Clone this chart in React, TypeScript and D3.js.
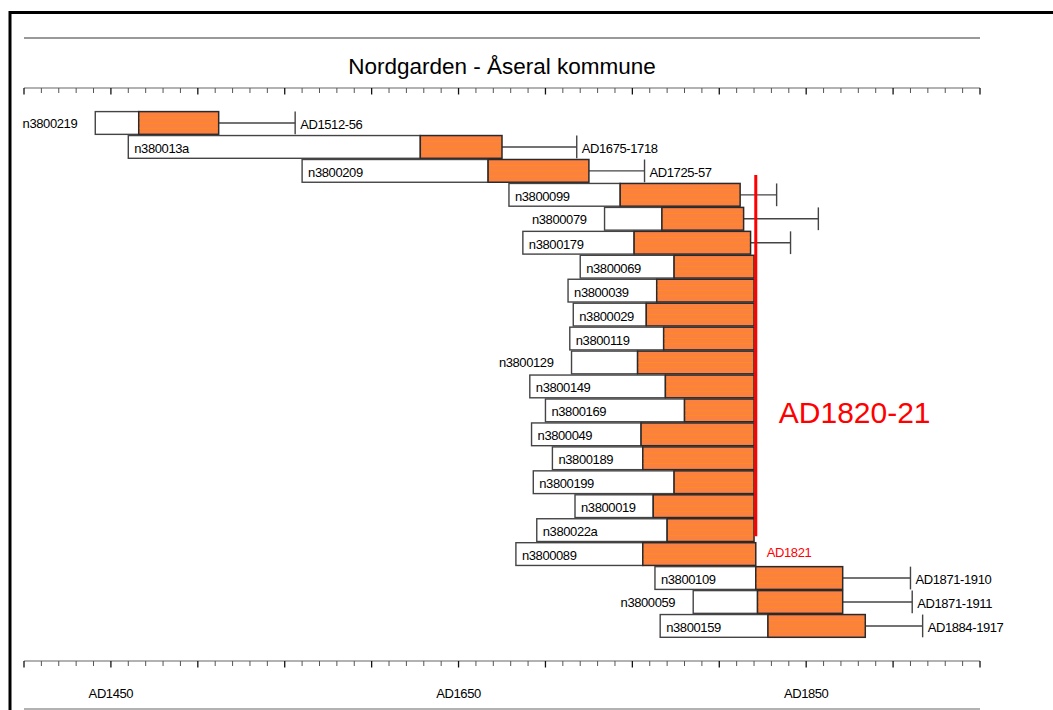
import React from "react";
import * as d3 from "d3";

// sample ids, top to bottom
const names = [
  "n3800219", "n380013a", "n3800209", "n3800099", "n3800079", "n3800179",
  "n3800069", "n3800039", "n3800029", "n3800119", "n3800129", "n3800149",
  "n3800169", "n3800049", "n3800189", "n3800199", "n3800019", "n380022a",
  "n3800089", "n3800109", "n3800059", "n3800159",
];
// first ring (start of white heartwood part)
const firstRing = [
  1441, 1460, 1560, 1679, 1734, 1687, 1720, 1713, 1716, 1714, 1715, 1691,
  1700, 1692, 1704, 1693, 1717, 1695, 1683, 1763, 1785, 1766,
];
// start of sapwood (orange part)
const sapStart = [
  1466, 1628, 1667, 1743, 1767, 1751, 1774, 1764, 1758, 1768, 1753, 1769,
  1780, 1755, 1756, 1774, 1762, 1770, 1756, 1821, 1822, 1828,
];
// last measured ring
const lastRing = [
  1512, 1675, 1725, 1812, 1814, 1818, 1820, 1820, 1820, 1820, 1820, 1820,
  1820, 1820, 1820, 1820, 1820, 1820, 1821, 1871, 1871, 1884,
];
// latest possible felling year (null = none drawn)
const fellMax: (number | null)[] = [
  1556, 1718, 1757, 1833, 1857, 1841, null, null, null, null, null, null,
  null, null, null, null, null, null, null, 1910, 1911, 1917,
];
const fellLabels = [
  "AD1512-56", "AD1675-1718", "AD1725-57", "", "", "", "", "", "", "", "", "",
  "", "", "", "", "", "", "", "AD1871-1910", "AD1871-1911", "AD1884-1917",
];
// ids written left of the bar instead of inside it
const outsideNames = ["n3800219", "n3800079", "n3800129", "n3800059"];

const axisYears = [1450, 1650, 1850];
const yearDomain = [1400, 1950];

const titleText = "Nordgarden - Åseral kommune";
const dateYear = 1821;
const dateText = "AD1820-21";
const dateSmall = "AD1821";
const redFrom = "n3800209";
const redTo = "n380022a";

const W = 1053;
const H = 710;
const font = "'Liberation Sans', Arial, sans-serif";
const orange = "#fb8140";

export default function App() {
  const x = d3.scaleLinear().domain(yearDomain).range([24, 980]);
  const y = d3
    .scaleBand<string>()
    .domain(names)
    .range([111, 111 + names.length * 23.95])
    .paddingInner(0.05)
    .paddingOuter(0.025);
  const bw = y.bandwidth();
  const mid = (n: string) => (y(n) || 0) + bw / 2;

  const ticks = d3.range(yearDomain[0], yearDomain[1] + 1, 10);

  const axis = (ay: number) => (
    <g>
      <line x1={x(yearDomain[0])} x2={x(yearDomain[1])} y1={ay} y2={ay} stroke="#666" strokeWidth={1.2} />
      {ticks.map((t) => (
        <line
          key={t}
          x1={x(t)}
          x2={x(t)}
          y1={ay}
          y2={ay + (t % 50 === 0 ? 6.5 : 5)}
          stroke={t % 50 === 0 ? "#111" : "#555"}
          strokeWidth={t % 50 === 0 ? 1.3 : 1}
        />
      ))}
    </g>
  );

  return (
    <svg
      width={W}
      height={H}
      style={{ position: "absolute", left: 0, top: 0, display: "block", background: "#fff" }}
    >
      {/* outer frame */}
      <rect x={10} y={12.5} width={1200} height={900} fill="none" stroke="#000" strokeWidth={3} />
      <line x1={24} x2={980} y1={38} y2={38} stroke="#777" strokeWidth={1.5} />
      <line x1={24} x2={980} y1={709} y2={709} stroke="#999" strokeWidth={1.5} />

      <text x={502} y={74} textAnchor="middle" fontFamily={font} fontSize={22.5} fill="#000">
        {titleText}
      </text>

      {axis(88)}
      {axis(661)}

      {axisYears.map((a) => (
        <text
          key={a}
          x={x(a)}
          y={698}
          textAnchor="middle"
          fontFamily={font}
          fontSize={13}
          letterSpacing={-0.4}
          fill="#000"
        >
          {"AD" + a}
        </text>
      ))}

      {names.map((n, i) => {
        const top = y(n) || 0;
        const c = mid(n);
        const x0 = x(firstRing[i]);
        const x1 = x(sapStart[i]);
        const x2 = x(lastRing[i]);
        const f = fellMax[i];
        const outside = outsideNames.includes(n);
        return (
          <g key={n}>
            {f !== null && (
              <g stroke="#444" strokeWidth={1.4}>
                <line x1={x2} x2={x(f)} y1={c} y2={c} />
                <line x1={x(f)} x2={x(f)} y1={top} y2={top + bw} />
              </g>
            )}
            {fellLabels[i] && f !== null && (
              <text
                x={x(f) + 5}
                y={c + 6}
                fontFamily={font}
                fontSize={13}
                letterSpacing={-0.4}
                fill="#000"
              >
                {fellLabels[i]}
              </text>
            )}
            <rect x={x0} y={top} width={x1 - x0} height={bw} fill="#fff" stroke="#444" strokeWidth={1.4} />
            <rect x={x1} y={top} width={x2 - x1} height={bw} fill={orange} stroke="#2a2a2a" strokeWidth={1.5} />
            {[0.27, 0.5, 0.73].map((p) => (
              <line
                key={p}
                x1={x1 + 1}
                x2={x2 - 1}
                y1={top + bw * p}
                y2={top + bw * p}
                stroke="#ff8c1c"
                strokeWidth={1}
              />
            ))}
            <text
              x={outside ? x0 - 18 : x0 + 6}
              y={c + (outside ? 5 : 6)}
              textAnchor={outside ? "end" : "start"}
              fontFamily={font}
              fontSize={13}
              letterSpacing={-0.4}
              fill="#000"
            >
              {n}
            </text>
          </g>
        );
      })}

      {/* felling date line */}
      <line
        x1={x(dateYear)}
        x2={x(dateYear)}
        y1={mid(redFrom) + 4}
        y2={mid(redTo) + 6}
        stroke="#ff0000"
        strokeWidth={3}
      />
      <text x={x(dateYear) + 23} y={423} fontFamily={font} fontSize={30} fill="#ff0000">
        {dateText}
      </text>
      <text
        x={x(dateYear) + 11}
        y={mid(names[18]) + 3}
        fontFamily={font}
        fontSize={13}
        letterSpacing={-0.4}
        fill="#ff0000"
      >
        {dateSmall}
      </text>
    </svg>
  );
}
